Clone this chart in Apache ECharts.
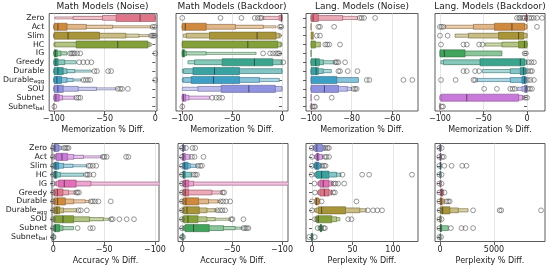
<!DOCTYPE html>
<html><head><meta charset="utf-8">
<script src="https://cdn.jsdelivr.net/npm/echarts@6/dist/echarts.min.js"></script>
<style>html,body{margin:0;padding:0;background:#fff}#c{width:548px;height:266px}</style>
</head><body><div id="c"></div><script>
const categories = ['Zero','Act','Slim','HC','IG','Greedy','Durable','Durable_agg','SOU','Subnet','Subnet_bal'];
const colorsTop = ['#e0758a','#cf8a3f','#a8953a','#84a03a','#42a35c','#3aa48c','#3aa2a2','#3e9fc4','#8f92e0','#c979d9','#e06fb5'];
const colorsBottom = ['#8f92e0','#c979d9','#3e9fc4','#3aa2a2','#e06fb5','#e0758a','#cf8a3f','#a8953a','#84a03a','#42a35c','#3aa48c'];

const titles = ['Math Models (Noise)','Math Models (Backdoor)','Lang. Models (Noise)','Lang. Models (Backdoor)'];
const ticksMem = [-100, -50, 0];
const ticksMemLangNoise = [-100, -80, -60];
const ticksAcc = [0, -50, -100];
const ticksPplNoise = [0, 50, 100];
const ticksPplBackdoor = [0, 5000];

// ---- Math Models (Noise): Memorization % Diff.
const memMathNoiseMed = [-15, -96, -86, -37, -98.5, -98, -96, -97, -96, -98, null];
const memMathNoiseLo = [[-38.6,-52,-81,-99],[-99.5,-100,-100,-100],[-99.5,-100,-100,-100],[-78,-99,-100],[-99.5,-100,-100],[-99.5,-100,-100],[-99.5,-100,-100,-100],[-99.5,-100,-100,-100],[-99.5,-100,-100,-100],[-99.5,-100,-100],[-100]];
const memMathNoiseHi = [[0,0,0,0],[-87,-68,-42,-4],[-55,-29,-16,-6],[-7.5,-6,-4],[-96.7,-93,-87],[-95.8,-89.3,-78],[-90.8,-87,-79.4,-63],[-92.5,-87,-81,-73],[-90.8,-76,-58,-38.6],[-94.8,-91.5,-79.4],[-100]];
const memMathNoiseOut = [[],[-2.6,-0.5],[-4,-2.5,-1.5,-0.5],[],[-84,-82.5,-81,-79.7,-77,-74,0],[-75,-71,-67,-63],[-60,-57.5,-46.5,-43.5],[-71,-68.6,-66.3,-64,0],[-37,-34.6,-32.7,-27],[-77.8,-75.8,-73.9],[-99.5]];

// ---- Math Models (Backdoor): Memorization % Diff.
const memMathBackMed = [-0.5, -97, -25, -34.3, -99, -27.7, -67.7, -68.7, -33.3, -99, null];
const memMathBackLo = [[-1,-3,-19],[-100,-100,-100,-100],[-72.7,-96,-99],[-100,-100,-100],[-100,-100,-100,-100],[-60,-87.7,-94.3],[-89.3,-98.7,-100],[-91,-99.3,-100],[-61,-84.3,-100],[-100,-100,-100],[-100]];
const memMathBackHi = [[0,0,0],[-76,-46.7,-18.7,-6],[-6,-2.7,-1],[-4.3,-1,0],[-97.7,-96,-76,-26],[-9.3,0,0],[-42.7,0,0],[-42.7,-22.7,-2.7],[-6.7,0,0],[-96.7,-93.3,-72.7],[-100]];
const memMathBackOut = [[-100,-61.7,-40.7,-27.3,-24.3,-22,-20.5],[-2,-0.7],[],[],[-19,-12,-9,-6,-4,-2.7],[1.3],[],[],[],[-70,-66,-63,-60],[-100]];

// ---- Lang. Models (Noise): Memorization % Diff.
const memLangNoiseMed = [-99, null, null, null, null, -97.7, -97.5, null, -93.4, null, null];
const memLangNoiseLo = [[-100,-100,-100],[-100],[-100],[-100,-100],[-100],[-100,-100,-100],[-100,-100,-100],[-100,-100],[-100,-100,-100],[-100],[-100]];
const memLangNoiseHi = [[-96.4,-84.4,-77],[-100],[-98.9],[-97.9,-95.4],[-100],[-95.9,-93.9,-88.5],[-96.4,-94,-90],[-87.3,-76.6],[-86.5,-82.1,-80],[-100],[-99.8]];
const memLangNoiseOut = [[-76,-75,-73.8,-68.4],[-96.4,-95.6,-88.6],[-97.2,-95.6],[-93,-92,-91,-85.7],[],[-88,-87.3,-86.5,-83.2],[-86.5,-85.7,-81.9,-77.1],[-72.5,-71.2,-54.4,-50],[-79,-78.2,-77.5],[-97.2,-89.8],[-99.3,-98.5,-98]];

// ---- Lang. Models (Backdoor): Memorization % Diff.
const memLangBackMed = [-0.5, -17.3, -9.6, -3, -95, -7.7, -4, -3, -1, -69.2, null];
const memLangBackLo = [[-1,-2],[-37.3,-61.5,-94],[-32.7,-67.3,-82.7],[-9.6,-28.8,-48],[-100,-100],[-54,-96,-99],[-7.7,-19.2,-51.2],[-5.8,-19.2,-57.7],[-2.7,-5.8,-11.5],[-98.8,-100,-100],[-100]];
const memLangBackHi = [[0,0.5],[-2.7,0,0],[-3.8,0,0],[0,0,0],[-71.2,-28.8],[-2.7,-0.5,0],[-1.9,0,0],[-1.2,0,0],[0,0,0],[-9.6,-5,-3],[-100]];
const memLangBackOut = [[-11.5,-9,-7.7,-5,-3,2.5,5,7.7,11.5,17.3],[-100,-98,-96,11.5],[-100,-91.2],[-98.8,-73,-69.2,-55,-51.2],[-2.7,-1.2],[2,5,8],[-73,-69.2,-59.6,-55,1.2,4,5.8],[-98.8,-82,-61.5,-59.6,1,4,8],[-49.2,-34.6,-19.2,-16.5,-14,1.2,3.5,5.8],[-1.9,0],[-98,-96.5]];

// ---- Math Models (Noise): Accuracy % Diff.
const accMathNoiseMed = [-1.5, -8.5, -2.5, -2, -10.8, -4, -4.2, -3.6, -9.5, -2, null];
const accMathNoiseLo = [[-5,-6.5,-8.5],[-14,-20,-29.7,-47.7],[-5.2,-10.1,-19.3,-33],[-3.6,-6.9,-29.7],[-22.5,-37,-120],[-9.5,-15,-21.6],[-11.8,-20,-31.4,-35.6],[-6.2,-10.1,-23.2],[-20,-35.6,-49.3,-55.9],[-6.2,-9.5,-19.9],[-0.5]];
const accMathNoiseHi = [[-1,-0.5,0],[-3,-1.5,-0.8,-0.3],[-1,-0.5,0,0],[-1,-0.5,0],[-5.2,-3,-1],[-1,-0.5,0],[-1,-0.5,0,0],[-1,-0.5,0],[-1,-0.5,0,0],[-1,-0.5,0],[0]];
const accMathNoiseOut = [[0.3,-10.5,-12,-13.5,-15],[0.3,-48.7,-50.3,-52.6,-71.6,-73.9],[0.3,-34.6,-36.3,-38.9,-42.2],[0.3,-32.4,-33.7,-35.6,-39.5],[0.3],[0.3,-22.5,-23.9,-25.2],[0.3,-36.9,-38.9,-41.2,-44.4,-56.5],[0.3,-24.8,-27.1,-33],[0.3,-56.9,-58.5,-65,-72.2,-79.4],[0.3,-23.9,-36.3,-38.9],[0.3,-0.3]];

// ---- Math Models (Backdoor): Accuracy % Diff.
const accMathBackMed = [-1, -1, -2.5, -1.5, -3, -3, -3.7, -4.7, -5.7, -11.3, null];
const accMathBackLo = [[-1.3,-3],[-3,-8],[-5.7,-8,-14.7],[-3,-9.5],[-6.3,-11.3,-120],[-6.3,-29.7,-40],[-16.3,-26.3,-35.7,-38],[-17,-24.7,-33,-34.5],[-15.7,-24.7,-33,-48],[-27,-41.3,-53,-59.7],[-1]];
const accMathBackHi = [[-0.3,0],[-0.3,0],[-1.3,-0.5,0],[-1,0],[-1.3,-0.5,0],[-1.3,-0.5,0],[-1.3,-0.5,0,0],[-1.3,-0.5,0,0],[-1.3,-0.5,0,0],[-3,-1.5,-0.5,0],[0]];
const accMathBackOut = [[0.3,-3.7,-10.3,-13],[0.3,-9.7,-12.3,-21.3],[0.3,-15.7,-18,-19.7],[0.3,-11.3,-13,-14.7],[0.3],[0.3,-40.5,-42],[0.3,-38.5,-41,-44,-48],[0.3,-35,-38,-40.3,-43],[0.3,-49,-50.3,-61.3],[0.3,-61.3,-63,-64.7,-66.3],[0.3,-0.7]];

// ---- Lang. Models (Noise): Perplexity % Diff.
const pplLangNoiseMed = [6, 7, 6, 11.9, 13.9, 15.2, 5.5, 11.9, 7.8, 11, 0];
const pplLangNoiseLo = [[3.7,2,1],[5.7,4.5,3],[3.7,3,2],[5.7,4,3],[9.8,8,7],[9.8,8,7],[4.5,3.5],[7.8,5,3],[5.7,4.5,3.5],[10.3,9,7.5],[-1]];
const pplLangNoiseHi = [[12.7,16,16.3],[8.6,12.7,14],[8.6,11,12],[20.9,30.3,35.7],[20.9,25,26],[20.9,24.2,25],[7.8,9.8],[41.4,59,67],[24.2,30.3,34.4],[11.7,13,14],[1]];
const pplLangNoiseOut = [[-0.4,16.8,19.3,20.9],[0,16,18,21],[0,12.7,15,16.8],[-0.4,37.7,61.9,70.5,123.4],[3,26.8,29.1,32.4,39.8],[3.7,26.2,28.3],[0,11.9,54.9],[0,69,75.4,80.7,86.5],[3.7,44.7,48.8],[7,14.5,16],[-3.5,3.5]];

// ---- Lang. Models (Backdoor): Perplexity % Diff.
const pplLangBackMed = [20, 30, 40, null, null, 150, 100, 250, null, 60, null];
const pplLangBackLo = [[0],[0],[0],[0],[0],[50,0],[30,0],[60,30,0],[0],[30,0],[0]];
const pplLangBackHi = [[80],[100],[100],[80],[80],[250,350],[200,400],[920,1690,2600],[80],[150,770],[50]];
const pplLangBackOut = [[-60,160],[-60,200,350],[-60,400,1073,2055,2453],[-60,150],[-60,150],[-60,420],[-60,600,750,900],[-40,3067,5520,5673,9353],[-60,150],[-60,1012,1993,2361,3067],[-60,100]];

// ---- layout / styling
const FONT = 'DejaVu Sans';
const HF = [1, 0.68, 0.45, 0.28, 0.16];
const LF = [0, 0.38, 0.58, 0.72, 0.8];
function hex2rgb(h){h=h.replace('#','');return [parseInt(h.slice(0,2),16),parseInt(h.slice(2,4),16),parseInt(h.slice(4,6),16)];}
function mix(a,b,t){const x=hex2rgb(a),y=hex2rgb(b);return 'rgb('+x.map((v,i)=>Math.round(v*(1-t)+y[i]*t)).join(',')+')';}

const panels = [
  {lo:memMathNoiseLo,hi:memMathNoiseHi,med:memMathNoiseMed,out:memMathNoiseOut,colors:colorsTop,ticks:ticksMem,min:-104.6,max:1.7,inv:false,name:'Memorization % Diff.',row:0,col:0},
  {lo:memMathBackLo,hi:memMathBackHi,med:memMathBackMed,out:memMathBackOut,colors:colorsTop,ticks:ticksMem,min:-106.3,max:6,inv:false,name:'Memorization % Diff.',row:0,col:1},
  {lo:memLangNoiseLo,hi:memLangNoiseHi,med:memLangNoiseMed,out:memLangNoiseOut,colors:colorsTop,ticks:ticksMemLangNoise,min:-102.5,max:-47.2,inv:false,name:'Memorization % Diff.',row:0,col:2},
  {lo:memLangBackLo,hi:memLangBackHi,med:memLangBackMed,out:memLangBackOut,colors:colorsTop,ticks:ticksMem,min:-105.7,max:20.7,inv:false,name:'Memorization % Diff.',row:0,col:3},
  {lo:accMathNoiseLo,hi:accMathNoiseHi,med:accMathNoiseMed,out:accMathNoiseOut,colors:colorsBottom,ticks:ticksAcc,min:-104,max:1.3,inv:true,name:'Accuracy % Diff.',row:1,col:0},
  {lo:accMathBackLo,hi:accMathBackHi,med:accMathBackMed,out:accMathBackOut,colors:colorsBottom,ticks:ticksAcc,min:-106,max:4.3,inv:true,name:'Accuracy % Diff.',row:1,col:1},
  {lo:pplLangNoiseLo,hi:pplLangNoiseHi,med:pplLangNoiseMed,out:pplLangNoiseOut,colors:colorsBottom,ticks:ticksPplNoise,min:-7.4,max:130.9,inv:false,name:'Perplexity % Diff.',row:1,col:2},
  {lo:pplLangBackLo,hi:pplLangBackHi,med:pplLangBackMed,out:pplLangBackOut,colors:colorsBottom,ticks:ticksPplBackdoor,min:-463,max:9722,inv:false,name:'Perplexity % Diff.',row:1,col:3}
];
const rowsY = [[13.5, 97.5],[143.5, 98]];
const colsX = [[[48,157],[176,288],[306,418],[435,545]],[[52,159],[178,288],[306,418],[435,545]]];

function renderer(p){
  return function(params, api){
    const i = api.value(1);
    const band = api.size([0,1])[1];
    const base = p.colors[i];
    const edge = mix(base,'#303030',0.45);
    const kids = [];
    const lo = p.lo[i], hi = p.hi[i];
    for (let l = lo.length-1; l >= 0; l--) {
      const a = api.coord([lo[l], i]), b = api.coord([hi[l], i]);
      const h = band*0.8*HF[l];
      kids.push({type:'rect', shape:{x:Math.min(a[0],b[0]), y:a[1]-h/2, width:Math.abs(b[0]-a[0]), height:h},
        style:{fill:mix(base,'#ffffff',LF[l]), stroke:edge, lineWidth:0.6}});
    }
    if (p.med[i] != null) {
      const m = api.coord([p.med[i], i]); const h = band*0.8;
      kids.push({type:'line', shape:{x1:m[0],y1:m[1]-h/2,x2:m[0],y2:m[1]+h/2}, style:{stroke:mix(base,'#1a1a1a',0.6), lineWidth:1}});
    }
    return {type:'group', children:kids};
  };
}

const grid=[], xAxis=[], yAxis=[], series=[], graphic=[];
const fmt = v => String(v).replace('-', '\u2212');
panels.forEach((p, k) => {
  const cx = colsX[p.row][p.col], ry = rowsY[p.row];
  grid.push({left:cx[0], top:ry[0], width:cx[1]-cx[0], height:ry[1], show:true, borderColor:'#333', borderWidth:0.8, backgroundColor:'transparent', containLabel:false});
  xAxis.push({gridIndex:k, type:'value', min:p.min, max:p.max, inverse:p.inv,
    axisLine:{show:false},
    axisTick:{show:true, customValues:p.ticks, length:3.5, lineStyle:{color:'#333', width:0.8}},
    axisLabel:{customValues:p.ticks, formatter:fmt, fontSize:8, color:'#222', fontFamily:FONT, margin:4},
    splitLine:{show:true, lineStyle:{color:'#e0e0e0', width:0.8}},
    name:p.name, nameLocation:'middle', nameGap:15, nameTextStyle:{fontSize:8, color:'#222', fontFamily:FONT}});
  yAxis.push({gridIndex:k, type:'category', data:categories, inverse:true,
    axisLine:{show:false},
    axisTick:{show:true, alignWithLabel:true, length:3, lineStyle:{color:'#333', width:0.8}},
    axisLabel:{show:p.col===0, fontSize:7.8, color:'#222', fontFamily:FONT, margin:5, interval:0,
      formatter: v => v.replace('_agg','{s|agg}').replace('_bal','{s|bal}'),
      rich:{s:{fontSize:5.5, fontFamily:FONT, color:'#222', padding:[4,0,0,0]}}},
    splitLine:{show:false}});
  series.push({type:'custom', xAxisIndex:k, yAxisIndex:k, clip:true, renderItem:renderer(p),
    data: categories.map((c,i)=>[p.lo[i][0], i]), encode:{x:0, y:1}, z:2});
  const pts = [];
  p.out.forEach((vals,i)=>vals.forEach(v=>pts.push([v,i])));
  series.push({type:'scatter', xAxisIndex:k, yAxisIndex:k, data:pts, symbol:'circle', symbolSize:4.8,
    itemStyle:{color:'rgba(0,0,0,0)', borderColor:'#555', borderWidth:0.75}, z:3, silent:true});
  if (p.row===0) graphic.push({type:'text', x:(cx[0]+cx[1])/2, y:6.5,
    style:{text:titles[p.col], textAlign:'center', textVerticalAlign:'middle', fontSize:9, fontFamily:FONT, fill:'#222'}});
});

const chart = echarts.init(document.getElementById('c'), null, {renderer:'canvas'});
chart.setOption({animation:false, backgroundColor:'#fff', textStyle:{fontFamily:FONT}, grid, xAxis, yAxis, series, graphic});
</script></body></html>
